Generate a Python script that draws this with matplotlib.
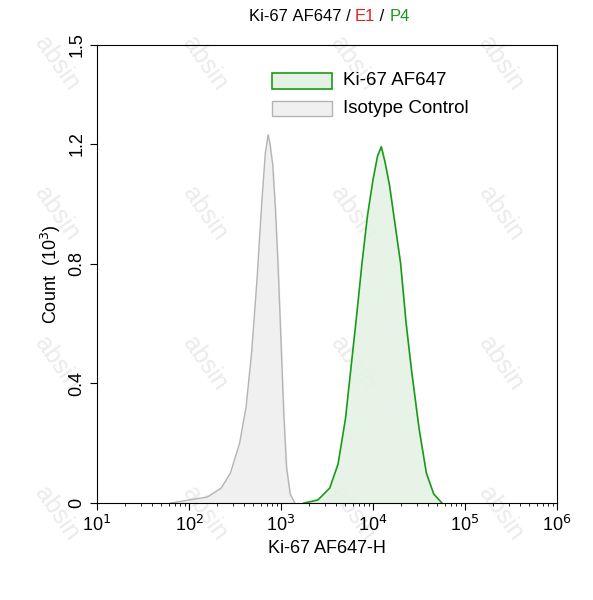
import numpy as np
import matplotlib
matplotlib.use("Agg")
import matplotlib.pyplot as plt

plt.rcParams['font.family'] = ['Liberation Sans', 'DejaVu Sans']

# log10 of fluorescence, count in thousands
iso_log = [1.8, 2.0, 2.2, 2.35, 2.45, 2.55, 2.62, 2.68, 2.74, 2.79, 2.83, 2.86, 2.88, 2.91, 2.94, 2.97, 3.0, 3.03, 3.06, 3.1, 3.15]
iso_cnt = [0.0, 0.01, 0.02, 0.05, 0.1, 0.2, 0.32, 0.5, 0.75, 1.0, 1.17, 1.23, 1.2, 1.13, 0.98, 0.78, 0.54, 0.3, 0.12, 0.03, 0.0]
ki_log = [3.25, 3.4, 3.53, 3.62, 3.7, 3.76, 3.82, 3.88, 3.94, 4.0, 4.05, 4.09, 4.13, 4.18, 4.24, 4.3, 4.36, 4.42, 4.5, 4.58, 4.66, 4.75]
ki_cnt = [0.0, 0.01, 0.05, 0.13, 0.28, 0.45, 0.62, 0.8, 0.96, 1.08, 1.16, 1.19, 1.14, 1.06, 0.93, 0.8, 0.6, 0.44, 0.25, 0.1, 0.03, 0.0]

fig = plt.figure(figsize=(5.93, 6.0), dpi=100)
ax = fig.add_axes([97/593, 97/600, 460/593, 458/600])
ax.patch.set_alpha(0)

iso_x = 10 ** np.array(iso_log)
ki_x = 10 ** np.array(ki_log)
ax.fill_between(iso_x, iso_cnt, color='#f0f0f0', zorder=1)
ax.plot(iso_x, iso_cnt, color='#b4b4b4', lw=1, zorder=2)
ax.fill_between(ki_x, ki_cnt, color='#e4f2e4', alpha=0.9, zorder=1)
ax.plot(ki_x, ki_cnt, color='#1a9a1a', lw=1.2, zorder=3)

ax.set_xscale('log')
ax.set_xlim(10, 1e6)
ax.set_ylim(0, 1.53)
ax.set_xticks([10, 1e2, 1e3, 1e4, 1e5, 1e6])
ax.set_xticklabels(['10$^1$', '10$^2$', '10$^3$', '10$^4$', '10$^5$', '10$^6$'], fontsize=13)
ax.set_yticks([0, 0.4, 0.8, 1.2, 1.53])
ax.set_yticklabels(['0', '0.4', '0.8', '1.2', '1.5'], rotation=90, va='center', fontsize=13)
ax.tick_params(direction='out', length=5)
ax.set_xlabel('Ki-67 AF647-H', fontsize=13)
ax.set_ylabel('Count  (10$^3$)', fontsize=13)

# legend boxes
ax.add_patch(plt.Rectangle((0.38, 0.905), 0.13, 0.033, transform=ax.transAxes,
                           facecolor='#e4f2e4', edgecolor='#1a9a1a', lw=1.2))
ax.add_patch(plt.Rectangle((0.38, 0.845), 0.13, 0.033, transform=ax.transAxes,
                           facecolor='#f0f0f0', edgecolor='#b4b4b4', lw=1))
ax.text(0.535, 0.922, 'Ki-67 AF647', transform=ax.transAxes, fontsize=13.5, va='center')
ax.text(0.535, 0.862, 'Isotype Control', transform=ax.transAxes, fontsize=13.5, va='center')

# title in colours, laid out piece by piece
parts = [('Ki-67 AF647 / ', 'black'), ('E1', '#e02020'), (' / ', 'black'), ('P4', '#1a9a1a')]
fig.canvas.draw()
r = fig.canvas.get_renderer()
widths = []
for s, c in parts:
    t = fig.text(0, 0, s.replace(' ', '\u00a0'), fontsize=12)
    widths.append(t.get_window_extent(r).width / fig.bbox.width)
    t.remove()
x = 0.555 - sum(widths) / 2
for (s, c), w in zip(parts, widths):
    fig.text(x, 0.965, s.replace(' ', '\u00a0'), color=c, fontsize=12)
    x += w

# watermark, behind the axes
for wx in [0.05, 0.3, 0.55, 0.8]:
    for wy in [0.1, 0.35, 0.6, 0.85]:
        fig.text(wx, wy, 'absin', fontsize=18, color='#ebebeb', rotation=-55, zorder=-1)

fig.savefig('out.png')
